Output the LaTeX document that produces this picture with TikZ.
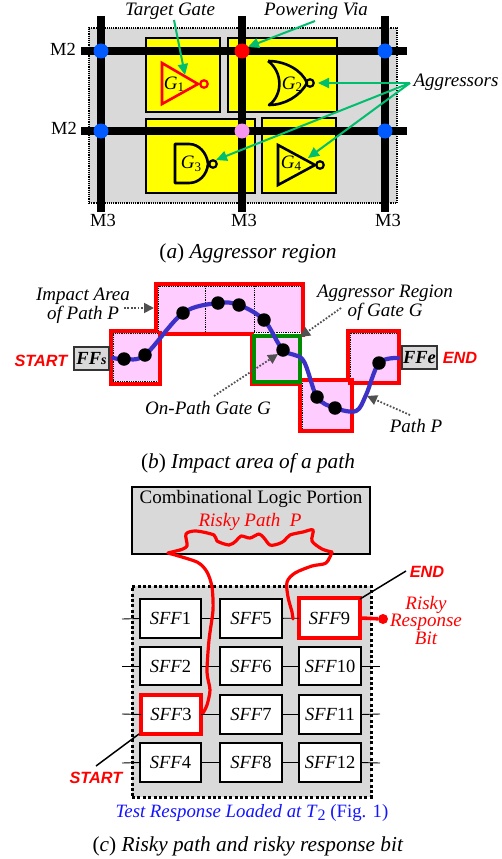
\documentclass[tikz,border=0pt]{standalone}
\usepackage{fontspec}
\setmainfont{Liberation Serif}
\newfontfamily\sansbi[BoldItalicFont={Liberation Sans Bold Italic}]{Liberation Sans}
\usetikzlibrary{arrows.meta}
\definecolor{panelgray}{RGB}{217,217,217}
\definecolor{ygold}{RGB}{255,255,0}
\definecolor{arrowgreen}{RGB}{0,190,110}
\definecolor{viablue}{RGB}{0,90,255}
\definecolor{viapink}{RGB}{245,150,240}
\definecolor{areapink}{RGB}{255,204,255}
\definecolor{pathblue}{RGB}{60,50,200}
\definecolor{gategreen}{RGB}{0,140,0}
\definecolor{dotgray}{RGB}{80,80,80}
\definecolor{txtblue}{RGB}{20,20,255}
\newcommand{\fs}[1]{\fontsize{#1}{#1}\selectfont}
\newcommand{\rnode}[6]{\node[#6,minimum width={(#4-#2)*1pt},minimum height={(#5-#3)*1pt}] (#1) at ({(#2+#4)/2},{(#3+#5)/2}) {};}
\tikzset{
 base/.style={inner sep=0pt,outer sep=0pt},
 panel/.style={base,draw=black,fill=panelgray,densely dotted,line width=1.2pt},
 cell/.style={base,draw=black,fill=ygold,line width=1.3pt},
 metal/.style={line width=8pt,black},
 via/.style={base,circle,minimum size=15pt},
 gatered/.style={draw=red,line width=2.6pt,line join=miter},
 gateblk/.style={draw=black,line width=2.6pt,line join=round},
 bub/.style={base,circle,minimum size=7.5pt,line width=2.2pt,fill=none},
 garrow/.style={draw=arrowgreen,line width=2pt,-{Triangle[length=11pt,width=10pt]}},
 gdot/.style={draw=dotgray,line width=1.8pt,dash pattern=on 1.7pt off 1.7pt,-{Triangle[length=10pt,width=10pt,fill=dotgray]}},
 lab/.style={base,align=center},
 it15/.style={lab,font=\fs{19}\itshape},
 area/.style={base,fill=areapink,draw=black,line width=.9pt,dash pattern=on .9pt off .9pt},
 redline/.style={draw=red,line width=4pt,line cap=rect},
 dot/.style={base,circle,fill=black,minimum size=13.5pt},
 ffbox/.style={base,draw=black!80,fill=panelgray,line width=1.8pt},
 sanslab/.style={lab,text=red,font=\fs{16.3}\sansbi\bfseries\itshape},
 sff/.style={base,draw=black,fill=white,line width=1.6pt},
 sffred/.style={sff,draw=red,line width=4.5pt},
 stub/.style={draw=black,line width=.9pt},
 riskline/.style={draw=red,line width=3.2pt,line join=round,line cap=round},
}
\begin{document}
\begin{tikzpicture}[x=1pt,y=-1pt]
\useasboundingbox[fill=white] (0,0) rectangle (502,859);
% ---------- (a)
\rnode{pa}{89}{28}{397}{203}{panel}
\rnode{c1}{146}{38}{220}{112}{cell}
\rnode{c2}{228}{38}{337}{112}{cell}
\rnode{c3}{146}{119}{255}{193}{cell}
\rnode{c4}{262}{118}{336}{193}{cell}
\coordinate (v1t) at (101,16); \coordinate (v1b) at (101,212);
\coordinate (v2t) at (242,16); \coordinate (v2b) at (242,212);
\coordinate (v3t) at (385,16); \coordinate (v3b) at (385,212);
\coordinate (h1l) at (81,51); \coordinate (h1r) at (407,51);
\coordinate (h2l) at (81,131); \coordinate (h2r) at (407,131);
\draw[metal] (v1t)--(v1b); \draw[metal] (v2t)--(v2b); \draw[metal] (v3t)--(v3b);
\draw[metal] (h1l)--(h1r); \draw[metal] (h2l)--(h2r);
\node[via,fill=viablue] (v11) at (101,51) {};
\node[via,fill=red] (v12) at (242,51) {};
\node[via,fill=viablue] (v13) at (385,51) {};
\node[via,fill=viablue] (v21) at (101,131) {};
\node[via,fill=viapink] (v22) at (242,131) {};
\node[via,fill=viablue] (v23) at (385,131) {};
% gates
\draw[gatered] (162,63)--(162,104)--(198,84)--cycle;
\node[bub,draw=red] (b1) at (204,84) {};
\draw[gateblk] (268,61) .. controls (285,61) and (302,70) .. (307,83) .. controls (300,96) and (285,105) .. (269,105) .. controls (283,95) and (283,72) .. (268,61);
\node[bub,draw=black] (b2) at (310,83) {};
\draw[gateblk] (175,144)--(189,144) .. controls (199,144) and (207,153) .. (208,164) .. controls (207,175) and (199,183) .. (189,183) -- (175,183) -- cycle;
\node[bub,draw=black] (b3) at (213,164) {};
\draw[gateblk,line join=miter] (278,145)--(278,185)--(315,165)--cycle;
\node[bub,draw=black] (b4) at (320,165) {};
\node[lab,font=\fs{19}] (g1) at (174,84) {\textit{G}\raisebox{-2.5pt}{\fs{13}1}};
\node[lab,font=\fs{19}] (g2) at (292,84) {\textit{G}\raisebox{-2.5pt}{\fs{13}2}};
\node[lab,font=\fs{19}] (g3) at (191,164) {\textit{G}\raisebox{-2.5pt}{\fs{13}3}};
\node[lab,font=\fs{19}] (g4) at (291,163) {\textit{G}\raisebox{-2.5pt}{\fs{13}4}};
% labels
\node[it15] (tg) at (170,11) {Target Gate};
\node[it15] (pv) at (316,11) {Powering Via};
\node[it15] (ag) at (456,82) {Aggressors};
\node[lab,font=\fs{18.5}] (m2a) at (63,49) {M2};
\node[lab,font=\fs{18.5}] (m2b) at (64,128) {M2};
\node[lab,font=\fs{18.5}] (m3a) at (103,220) {M3};
\node[lab,font=\fs{18.5}] (m3b) at (244,220) {M3};
\node[lab,font=\fs{18.5}] (m3c) at (388,220) {M3};
\node[lab,font=\fs{21.3}] (capa) at (248,253) {(\textit{a}) \textit{Aggressor region}};
% arrows
\coordinate (tgs) at (174,20); \coordinate (tge) at (185,75);
\coordinate (pvs) at (315,21); \coordinate (pve) at (248,47);
\coordinate (ags) at (410,83); \coordinate (a2e) at (318,83);
\coordinate (a3e) at (216,160); \coordinate (a4e) at (308,158);
\draw[garrow] (tgs)--(tge);
\draw[garrow] (pvs)--(pve);
\draw[garrow] (ags)--(a2e);
\draw[garrow] (ags)--(a3e);
\draw[garrow] (ags)--(a4e);
% ---------- (b)
\rnode{r1}{113}{333}{158}{381}{area}
\rnode{r2}{158}{286}{205}{332}{area}
\rnode{r3}{205}{286}{254}{332}{area}
\rnode{r4}{254}{286}{301}{332}{area}
\rnode{r5}{254}{335}{300}{383}{area}
\rnode{r6}{302}{381}{350}{429}{area}
\rnode{r7}{350}{333}{397}{381}{area}
\draw[redline] (111,331)--(156,331)--(156,284)--(303,284)--(303,335);
\draw[redline] (111,331)--(111,384)--(160,384)--(160,333);
\draw[redline] (160,334)--(252,334)--(252,384)--(300,384);
\draw[redline] (300,380)--(300,431)--(352,431)--(352,380)--(300,380);
\draw[redline] (348,380)--(348,331)--(399,331)--(399,383)--(350,383);
\draw[gategreen,line width=3.6pt] (254,336) rectangle (300,382);
\coordinate (p0) at (113,358); \coordinate (p1) at (124,359); \coordinate (p2) at (145,355);
\coordinate (p3) at (183,313); \coordinate (p4) at (218,303); \coordinate (p5) at (239,305);
\coordinate (p6) at (264,320); \coordinate (p7) at (283,350); \coordinate (p7b) at (303,360);
\coordinate (p8) at (317,397); \coordinate (p9) at (335,408); \coordinate (p9b) at (356,411);
\coordinate (p9c) at (366,395); \coordinate (p10) at (379,363); \coordinate (p11) at (398,358);
\draw[pathblue,line width=4.2pt,line cap=round] plot[smooth,tension=.55] coordinates {(p0)(p1)(p2)(p3)(p4)(p5)(p6)(p7)(p7b)(p8)(p9)(p9b)(p9c)(p10)(p11)};
\foreach \n in {p1,p2,p3,p4,p5,p6,p7,p8,p9,p10} \node[dot] (d\n) at (\n) {};
\rnode{ffs}{74}{347}{109}{370}{ffbox}
\rnode{ffe}{402}{346}{437}{369}{ffbox}
\node[lab,font=\fs{18.5}\bfseries\itshape] (ffst) at (ffs) {FF\fs{14}s};
\node[lab,font=\fs{18.5}\bfseries\itshape] (ffet) at (ffe) {FFe};
\node[sanslab] (st1) at (41,361) {START};
\node[sanslab] (en1) at (460,358) {END};
\node[it15] (ia) at (83,306) {Impact Area\\of Path \textit{P}};
\node[it15] (arg) at (385,303) {Aggressor Region\\of Gate G};
\node[it15] (opg) at (208,408) {On-Path Gate G};
\node[it15] (pp) at (416,426) {Path \textit{P}};
\node[lab,font=\fs{21.3}] (capb) at (248,463) {(\textit{b}) \textit{Impact area of a path}};
\coordinate (ias) at (124,308); \coordinate (iae) at (154,308);
\coordinate (args) at (341,308); \coordinate (arge) at (300,337);
\coordinate (ops) at (214,396); \coordinate (ope) at (278,354);
\coordinate (pps) at (410,415); \coordinate (ppe) at (367,396);
\draw[gdot] (ias)--(iae);
\draw[gdot] (args)--(arge);
\draw[gdot] (ops)--(ope);
\draw[gdot] (pps)--(ppe);
% ---------- (c)
\rnode{clp}{132}{487}{370}{554}{base,draw=black,fill=panelgray,line width=1.6pt}
\node[lab,font=\fs{19}] (clpt) at (251,499) {Combinational Logic Portion};
\node[it15,text=red] (rp) at (250,522) {Risky Path~~\textit{P}};
\rnode{tr}{132}{586}{371}{797}{base,draw=black,fill=panelgray,line width=3pt,dash pattern=on 3pt off 2.4pt}
\rnode{s1}{140}{599}{201}{638}{sff}
\rnode{s2}{140}{647}{201}{685}{sff}
\rnode{s3}{141}{695}{201}{734}{sffred}
\rnode{s4}{140}{743}{201}{782}{sff}
\rnode{s5}{220}{599}{282}{638}{sff}
\rnode{s6}{220}{647}{282}{685}{sff}
\rnode{s7}{220}{695}{282}{734}{sff}
\rnode{s8}{220}{743}{282}{782}{sff}
\rnode{s9}{299}{598}{360}{638}{sffred}
\rnode{s10}{299}{647}{361}{685}{sff}
\rnode{s11}{299}{695}{361}{734}{sff}
\rnode{s12}{299}{743}{361}{782}{sff}
\foreach \n in {1,...,12} \node[lab,font=\fs{18.5}] (t\n) at (s\n) {\textit{SFF}\n};
\foreach \a/\b in {s1/s5,s5/s9,s2/s6,s6/s10,s3/s7,s7/s11,s4/s8,s8/s12} \draw[stub] (\a)--(\b);
\foreach \n/\y in {1/619,2/666,3/714,4/763} {\coordinate (li\n) at (122,\y); \draw[stub] (li\n)--(s\n.west);}
\foreach \n/\y in {10/666,11/714,12/763} {\coordinate (ro\n) at (380,\y); \draw[stub] (s\n.east)--(ro\n);}
\node[base,circle,fill=red,minimum size=10pt] (rb) at (383,619) {};
\draw[red,line width=3.6pt] (s9.east)--(rb);
\node[lab,text=red,font=\fs{19}\itshape,align=center] (rrb) at (426,620) {Risky\\[-1.5pt]Response\\[-1.5pt]Bit};
\node[sanslab] (en2) at (427,572) {END};
\node[sanslab] (st2) at (96,778) {START};
\coordinate (en2s) at (406,571); \coordinate (en2e) at (360,599);
\coordinate (st2s) at (96,766); \coordinate (st2e) at (139,734);
\draw[black,line width=1.5pt] (en2s)--(en2e);
\draw[black,line width=1.5pt] (st2s)--(st2e);
\coordinate (rs) at (203,713); \coordinate (re) at (293,619);
\draw[riskline] plot[smooth,tension=.45] coordinates {(rs)(207,705)(210,690)(207,672)(209,640)(213,610)(212,587)(207,572)(197,562)(168,553)};
\draw[riskline] (168,553) -- (180,550);
\draw[riskline] plot[smooth,tension=.5] coordinates {(180,550)(187,546)(186,534)(196,531)(214,535)(217,541)(229,545)(236,541)(241,536)(250,538)(259,534)(264,538)(270,545)(278,544)(284,541)(290,535)(303,532)(313,530)(312,541)(322,549)(332,552)};
\draw[riskline] plot[smooth,tension=.5] coordinates {(332,552)(326,563)(312,566)(295,573)(287,582)(288,597)(292,612)(re)};
\node[lab,text=txtblue,font=\fs{18.8}] (tr1) at (252,813) {\textit{Test Response Loaded at T}\raisebox{-2.5pt}{\fs{16}2} (Fig. 1)};
\node[lab,font=\fs{21.3}] (capc) at (248,846) {(\textit{c}) \textit{Risky path and risky response bit}};
\end{tikzpicture}
\end{document}
